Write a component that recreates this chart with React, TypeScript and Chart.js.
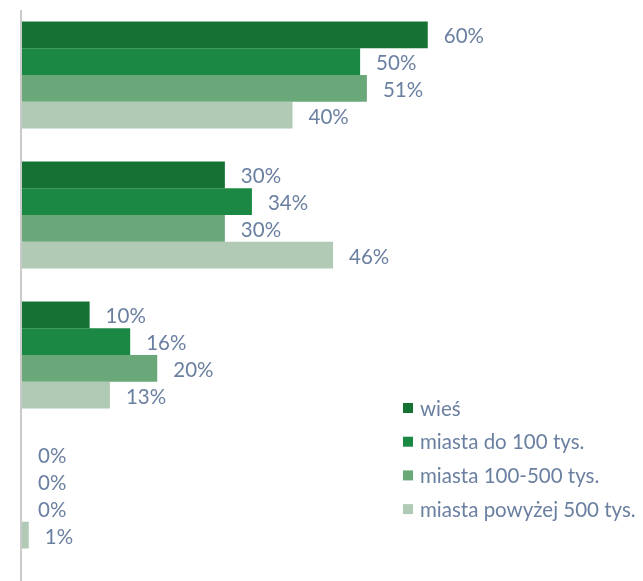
import React, { useEffect, useRef } from "react";
import { Chart, registerables } from "chart.js";

Chart.register(...registerables);

const categories = ["A", "B", "C", "D"];
const seriesNames = ["wieś", "miasta do 100 tys.", "miasta 100-500 tys.", "miasta powyżej 500 tys."];
const wies = [60, 30, 10, 0];
const miastaDo100 = [50, 34, 16, 0];
const miasta100500 = [51, 30, 20, 0];
const miastaPow500 = [40, 46, 13, 1];
const colors = ["#167234", "#1b8943", "#6aa87a", "#b0cab6"];
const textColor = "#6b80a1";
const FONT = "Lato, 'Open Sans', sans-serif";

const labelPlugin = {
  id: "barLabels",
  afterDatasetsDraw(chart: any) {
    const ctx = chart.ctx;
    ctx.save();
    ctx.font = `20.5px ${FONT}`;
    ctx.fillStyle = textColor;
    ctx.textBaseline = "middle";
    ctx.textAlign = "left";
    chart.data.datasets.forEach((ds: any, i: number) => {
      const meta = chart.getDatasetMeta(i);
      meta.data.forEach((bar: any, j: number) => {
        ctx.fillText(`${ds.data[j]}%`, bar.x + 16, bar.y + 2);
      });
    });
    ctx.restore();
  },
};

const axisLinePlugin = {
  id: "axisLine",
  afterDatasetsDraw(chart: any) {
    const ctx = chart.ctx;
    const x = chart.chartArea.left - 1;
    ctx.save();
    ctx.strokeStyle = "#bdbdbd";
    ctx.lineWidth = 1.6;
    ctx.beginPath();
    ctx.moveTo(x, 10);
    ctx.lineTo(x, chart.height);
    ctx.stroke();
    ctx.restore();
  },
};

const legendPlugin = {
  id: "customLegend",
  afterDraw(chart: any) {
    const ctx = chart.ctx;
    ctx.save();
    ctx.font = `20.5px ${FONT}`;
    ctx.textBaseline = "middle";
    ctx.textAlign = "left";
    const x0 = 403;
    const y0 = 408;
    const step = 33.7;
    seriesNames.forEach((name, i) => {
      const y = y0 + i * step;
      ctx.fillStyle = colors[i];
      ctx.fillRect(x0, y - 5, 10, 10);
      ctx.fillStyle = textColor;
      ctx.fillText(name, x0 + 17, y + 1);
    });
    ctx.restore();
  },
};

export default function App() {
  const ref = useRef<HTMLCanvasElement>(null);
  useEffect(() => {
    if (!ref.current) return;
    const values = [wies, miastaDo100, miasta100500, miastaPow500];
    const chart = new Chart(ref.current, {
      type: "bar",
      data: {
        labels: categories,
        datasets: seriesNames.map((name, i) => ({
          label: name,
          data: values[i],
          backgroundColor: colors[i],
          borderWidth: 0,
          categoryPercentage: 0.764,
          barPercentage: 1,
        })),
      },
      options: {
        indexAxis: "y",
        animation: false,
        responsive: false,
        maintainAspectRatio: false,
        layout: { padding: { left: 22, right: 9, top: 5, bottom: 16 } },
        scales: {
          x: { display: false, min: 0, max: 90.5 },
          y: { display: false },
        },
        plugins: {
          legend: { display: false },
          tooltip: { enabled: false },
        },
      },
      plugins: [labelPlugin, axisLinePlugin, legendPlugin],
    });
    return () => chart.destroy();
  }, []);
  return (
    <div style={{ position: "fixed", left: 0, top: 0, width: 643, height: 581, background: "#fff" }}>
      <canvas ref={ref} width={643} height={581} style={{ width: 643, height: 581 }} />
    </div>
  );
}
